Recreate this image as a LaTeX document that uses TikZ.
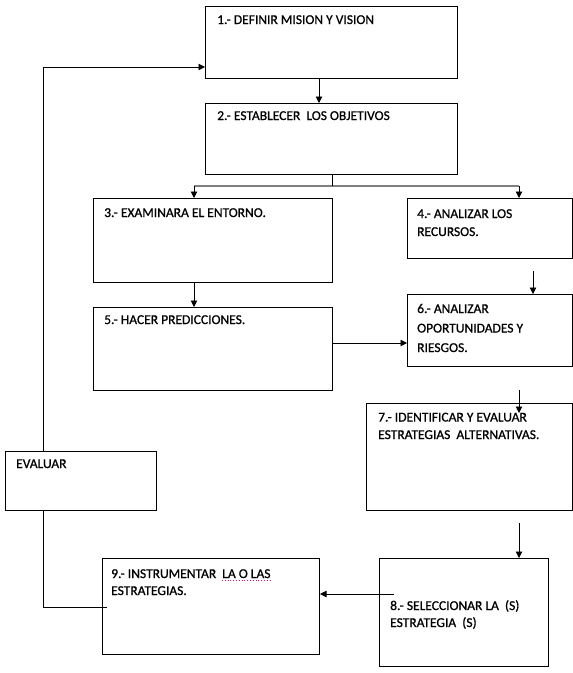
\documentclass[tikz,border=0pt]{standalone}
\usepackage{fontspec}
\setmainfont{Carlito}[FakeBold=0.8]
\usetikzlibrary{arrows.meta}
\begin{document}
\begin{tikzpicture}[x=1pt,y=-1pt,
  box/.style={draw=black, line width=1pt, inner sep=0pt, anchor=north west, fill=none},
  txt/.style={anchor=base west, inner sep=0pt, align=left, font=\fontsize{13.5}{18}\selectfont},
  arr/.style={draw=black, line width=0.9pt, -{Triangle[length=6.5pt,width=6.5pt]}},
  ln/.style={draw=black, line width=0.9pt},
  splitline/.style={draw=black!50, line width=2pt}]
\useasboundingbox (0,0) rectangle (573,673);
% boxes
\node[box, minimum width=252, minimum height=72] (b1) at (205,6) {};
\node[box, minimum width=252, minimum height=71] (b2) at (205,103) {};
\node[box, minimum width=239, minimum height=84] (b3) at (93,198) {};
\node[box, minimum width=165, minimum height=60] (b4) at (407,198) {};
\node[box, minimum width=239, minimum height=83] (b5) at (93,307) {};
\node[box, minimum width=165, minimum height=72] (b6) at (407,294) {};
\node[box, minimum width=206, minimum height=107] (b7) at (366,403) {};
\node[box, minimum width=169, minimum height=108] (b8) at (379,558) {};
\node[box, minimum width=217, minimum height=96] (b9) at (102,558) {};
\node[box, minimum width=151, minimum height=59] (ev) at (5,451) {};
% texts (multi-line nodes are placed at the baseline of their last line)
\node[txt] (t1) at (217,24) {1.- DEFINIR MISION Y VISION};
\node[txt] (t2) at (217,120) {2.- ESTABLECER\ \ LOS OBJETIVOS};
\node[txt] (t3) at (104,217) {3.- EXAMINARA EL ENTORNO.};
\node[txt] (t4) at (417,236) {4.- ANALIZAR LOS\\RECURSOS.};
\node[txt] (t5) at (104,324) {5.- HACER PREDICCIONES.};
\node[txt, font=\fontsize{13.5}{19.5}\selectfont] (t6) at (417,352) {6.- ANALIZAR\\OPORTUNIDADES Y\\RIESGOS.};
\node[txt, font=\fontsize{13.5}{17.5}\selectfont] (t7) at (378,439) {7.- IDENTIFICAR Y EVALUAR\\ESTRATEGIAS\ \ ALTERNATIVAS.};
\node[txt, font=\fontsize{13.5}{17}\selectfont] (t8) at (390,627) {8.- SELECCIONAR LA\ \ (S)\\ESTRATEGIA\ \ (S)};
\node[txt, font=\fontsize{13.5}{17}\selectfont] (t9) at (111,595) {9.- INSTRUMENTAR\ \ LA O LAS\\ESTRATEGIAS.};
\node[txt] (tev) at (16,468) {EVALUAR};
% spell-check underline
\coordinate (u1) at (222,580);
\coordinate (u2) at (272,580);
\draw[magenta!80!red, line width=0.8pt, dotted] (u1) -- (u2);
% helper coordinates
\coordinate (x319) at (319,0);
\coordinate (split) at (332,186);
\coordinate (sl) at (194,186);
\coordinate (sr) at (519,186);
\coordinate (x194) at (194,0);
\coordinate (y343) at (0,343);
\coordinate (s46) at (533,271);
\coordinate (s67a) at (519,390);
\coordinate (s67b) at (519,413);
\coordinate (s78) at (519,523);
\coordinate (s89) at (394,594);
\coordinate (s9e) at (107,607);
\coordinate (c9e) at (43,607);
\coordinate (c1) at (43,67);
% connectors
\draw[arr] (b1.south -| x319) -- (b2.north -| x319);
\draw[splitline] (sl) -- (sr);
\draw[ln] (b2.south -| split) -- (split);
\draw[arr] (sl) -- (b3.north -| sl);
\draw[arr] (sr) -- (b4.north -| sr);
\draw[arr] (b3.south -| x194) -- (b5.north -| x194);
\draw[arr] (b5.east |- y343) -- (b6.west |- y343);
\draw[arr] (s46) -- (b6.north -| s46);
\draw[arr] (s67a) -- (s67b);
\draw[arr] (s78) -- (b8.north -| s78);
\draw[arr] (s89) -- (b9.east |- s89);
\draw[ln] (s9e) -- (c9e) -- (ev.south -| c9e);
\draw[arr] (ev.north -| c1) -- (c1) -- (b1.west |- c1);
\end{tikzpicture}
\end{document}
